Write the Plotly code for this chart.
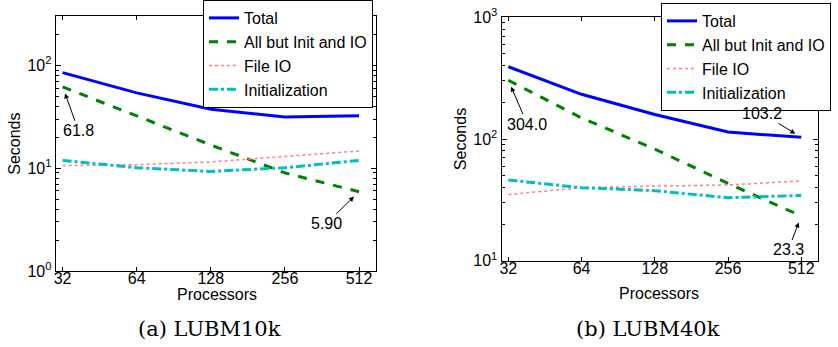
import numpy as np
import plotly.graph_objects as go

# ---------------- data ----------------
processors = [32, 64, 128, 256, 512]
tick_labels = ["32", "64", "128", "256", "512"]

# LUBM10k
total_10k = [85, 54, 37.5, 31.5, 32.4]
allbut_10k = [61.8, 32, 16.8, 9.0, 5.90]
fileio_10k = [10.6, 10.8, 11.5, 13.1, 14.7]
init_10k = [11.9, 10.1, 9.3, 10.1, 11.9]

# LUBM40k
total_40k = [393, 233, 159, 114, 103.2]
allbut_40k = [304.0, 149, 82.6, 43.2, 23.3]
fileio_40k = [35, 39.8, 41, 41.9, 45.2]
init_40k = [46, 39.8, 37.6, 32.9, 34.4]

series_names = ["Total", "All but Init and IO", "File IO", "Initialization"]
captions = ["(a) LUBM10k", "(b) LUBM40k"]
x_title = "Processors"
y_title = "Seconds"

# ---------------- styling ----------------
styles = [
    dict(color="#0000FF", width=3, dash="solid"),
    dict(color="#008000", width=3, dash="dash"),
    dict(color="#FF7F7F", width=1.5, dash="dot"),
    dict(color="#00BFBF", width=3, dash="dashdot"),
]
FONT = "Liberation Sans"

fig = go.Figure()

panels = [
    dict(data=[total_10k, allbut_10k, fileio_10k, init_10k], xa="x", ya="y", legend="legend"),
    dict(data=[total_40k, allbut_40k, fileio_40k, init_40k], xa="x2", ya="y2", legend="legend2"),
]
for p in panels:
    for name, vals, st in zip(series_names, p["data"], styles):
        fig.add_trace(go.Scatter(
            x=processors, y=vals, mode="lines", name=name,
            line=st, xaxis=p["xa"], yaxis=p["ya"], legend=p["legend"],
        ))

def minor_vals(e0, e1):
    return [k * 10 ** e for e in range(e0, e1) for k in range(2, 10)]

xcommon = dict(
    type="log", range=[np.log10(30), np.log10(600)], automargin=False,
    tickmode="array", tickvals=processors, ticktext=tick_labels,
    ticks="inside", ticklen=4, tickcolor="black",
    showline=True, linecolor="black", linewidth=1, mirror="allticks",
    showgrid=False, zeroline=False, ticklabelstandoff=-7,
    tickfont=dict(family=FONT, size=16, color="black"),
)
ycommon = dict(
    type="log", tickmode="array", automargin=False,
    ticks="inside", ticklen=5, tickcolor="black",
    showline=True, linecolor="black", linewidth=1, mirror="allticks",
    showgrid=False, zeroline=False,
    tickfont=dict(family=FONT, size=16, color="black"),
    title=dict(text=y_title, font=dict(family=FONT, size=16, color="black"), standoff=2),
)

W, H = 838, 347
fig.update_layout(
    width=W, height=H,
    margin=dict(l=0, r=0, t=0, b=0, pad=0, autoexpand=False),
    paper_bgcolor="white", plot_bgcolor="white",
    xaxis=dict(xcommon, domain=[55.7 / W, 376 / W], anchor="y"),
    yaxis=dict(ycommon, domain=[(H - 271) / H, (H - 16.3) / H], anchor="x",
               range=[0, np.log10(300)],
               tickvals=[1, 10, 100], ticktext=["10<sup>0</sup>", "10<sup>1</sup>", "10<sup>2</sup>"],
               minor=dict(ticks="inside", ticklen=3, tickcolor="black", tickvals=minor_vals(0, 3))),
    xaxis2=dict(xcommon, domain=[501.5 / W, 818 / W], anchor="y2"),
    yaxis2=dict(ycommon, domain=[(H - 260.7) / H, (H - 17.3) / H], anchor="x2",
                range=[1, 3],
                tickvals=[10, 100, 1000], ticktext=["10<sup>1</sup>", "10<sup>2</sup>", "10<sup>3</sup>"],
                minor=dict(ticks="inside", ticklen=3, tickcolor="black", tickvals=minor_vals(1, 3))),
    legend=dict(x=203 / W, y=1.0, xanchor="left", yanchor="top",
                bgcolor="white", bordercolor="black", borderwidth=1,
                font=dict(family=FONT, size=16, color="black"), tracegroupgap=0),
    legend2=dict(x=661 / W, y=1 - 3 / H, xanchor="left", yanchor="top",
                 bgcolor="white", bordercolor="black", borderwidth=1,
                 font=dict(family=FONT, size=16, color="black"), tracegroupgap=0),
    showlegend=True,
)

# value callouts
callouts = [
    ("x", "y", processors[0], allbut_10k[0], "%.1f" % allbut_10k[0], 16, 44),
    ("x", "y", processors[-1], allbut_10k[-1], "%.2f" % allbut_10k[-1], -33, 32),
    ("x2", "y2", processors[0], allbut_40k[0], "%.1f" % allbut_40k[0], 19, 44),
    ("x2", "y2", processors[-1], total_40k[-1], "%.1f" % total_40k[-1], -39, -24),
    ("x2", "y2", processors[-1], allbut_40k[-1], "%.1f" % allbut_40k[-1], -13, 34),
]
for xr, yr, xv, yv, txt, ax, ay in callouts:
    fig.add_annotation(
        x=np.log10(xv), y=np.log10(yv), xref=xr, yref=yr, text=txt,
        showarrow=True, ax=ax, ay=ay, arrowhead=2, arrowsize=1, arrowwidth=1,
        arrowcolor="black", standoff=7,
        font=dict(family=FONT, size=16, color="black"),
    )

# x-axis titles
for cx, cy in [(217, 294), (659, 293)]:
    fig.add_annotation(
        x=cx / W, y=(H - cy) / H, xref="paper", yref="paper", text=x_title,
        showarrow=False, xanchor="center", yanchor="middle",
        font=dict(family=FONT, size=16, color="black"),
    )

for cap, cx in zip(captions, [209, 648]):
    fig.add_annotation(
        x=cx / W, y=(H - 329) / H, xref="paper", yref="paper", text=cap,
        showarrow=False, xanchor="center", yanchor="middle",
        font=dict(family="DejaVu Serif", size=21, color="black"),
    )

fig.write_html("out.html", config={"displayModeBar": False},
               post_script="document.body.style.margin='0';")
